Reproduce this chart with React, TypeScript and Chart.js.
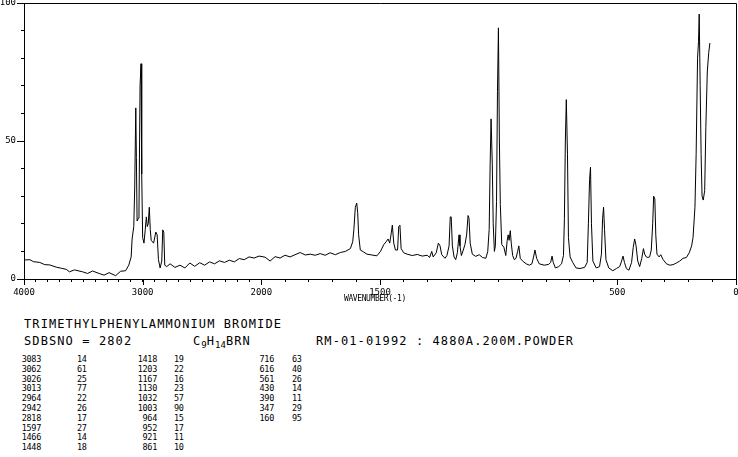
import React, { useEffect, useRef } from "react";
import { Chart, registerables } from "chart.js";

Chart.register(...registerables);

// Raman spectrum trace (wavenumber in cm-1, relative intensity)
const wavenumbers: number[] = [
  3992, 3950, 3922, 3867, 3825, 3783, 3728, 3686, 3644, 3617, 3575, 3506, 3464, 3422, 3367, 3325, 3283, 3228,
  3186, 3144, 3117, 3097, 3089, 3075, 3067, 3058, 3053, 3047, 3036, 3031, 3022, 3014, 3008, 3000, 2989, 2978,
  2969, 2961, 2953, 2944, 2936, 2928, 2908, 2889, 2878, 2867, 2853, 2839, 2831, 2822, 2814, 2797, 2769, 2728,
  2686, 2644, 2603, 2561, 2519, 2478, 2436, 2394, 2353, 2311, 2269, 2228, 2186, 2144, 2103, 2061, 2019, 1984,
  1963, 1942, 1921, 1900, 1879, 1858, 1836, 1815, 1794, 1773, 1752, 1731, 1710, 1688, 1667, 1646, 1625, 1615,
  1610, 1604, 1598, 1594, 1590, 1583, 1569, 1555, 1534, 1513, 1498, 1484, 1474, 1466, 1459, 1452, 1448, 1442,
  1435, 1426, 1421, 1416, 1411, 1400, 1386, 1364, 1343, 1322, 1301, 1291, 1282, 1276, 1263, 1254, 1247, 1240,
  1226, 1218, 1209, 1204, 1200, 1195, 1188, 1181, 1174, 1167, 1163, 1157, 1149, 1142, 1135, 1129, 1125, 1120,
  1111, 1097, 1082, 1068, 1054, 1046, 1040, 1036, 1032, 1027, 1023, 1018, 1014, 1009, 1005, 1001, 997, 993,
  987, 978, 970, 964, 960, 956, 951, 947, 941, 934, 927, 920, 915, 909, 899, 884, 871, 860, 853, 847, 840, 829,
  808, 789, 781, 775, 770, 761, 747, 735, 727, 723, 719, 715, 710, 706, 699, 688, 674, 657, 638, 627, 622, 617,
  613, 609, 603, 589, 575, 567, 562, 558, 554, 548, 536, 519, 504, 490, 482, 476, 470, 462, 451, 440, 433, 427,
  421, 414, 406, 397, 390, 385, 378, 371, 364, 357, 351, 347, 342, 338, 333, 324, 317, 307, 293, 279, 265, 251,
  237, 223, 209, 197, 187, 181, 173, 168, 162, 158, 155, 151, 147, 143, 138, 132, 127, 121, 115, 110,
];
const intensities: number[] = [
  6.9, 7.0, 6.3, 6.0, 5.2, 5.1, 4.3, 3.9, 3.5, 2.6, 3.3, 2.6, 2.0, 2.9, 2.0, 1.4, 2.3, 1.2,
  2.8, 3.0, 5.0, 8.0, 14.5, 19, 33, 62, 44, 21, 22, 25, 70, 78, 38, 15, 13, 18,
  22.5, 19, 20, 26, 18, 14, 13, 17, 16, 7, 4, 6.5, 17.8, 17, 5, 4.5, 5.5, 4.2,
  5.0, 4.0, 5.8, 4.6, 5.9, 5.0, 6.2, 5.5, 6.6, 6.0, 6.8, 6.2, 7.4, 7.0, 8.0, 7.6, 8.3, 7.9,
  6.5, 8.1, 7.6, 8.6, 8.0, 8.8, 9.6, 8.7, 9.0, 8.6, 9.2, 8.6, 9.5, 8.8, 9.6, 10.0, 11.0, 13.5,
  18, 26, 27.5, 24, 16, 10.5, 9.8, 9.0, 8.7, 8.4, 10.0, 12.5, 13.5, 14.5, 13, 17, 19.5, 13,
  10.5, 10.5, 19, 19.5, 11, 9.5, 9.0, 8.5, 8.9, 8.3, 8.6, 7.8, 10.0, 8.0, 9.5, 13.0, 12.0, 8.8,
  7.5, 8.5, 12, 22.5, 22.5, 12, 8.0, 7.0, 9.5, 16, 12, 8.5, 10.5, 12.5, 16, 23, 22, 13,
  9.0, 8.2, 8.8, 7.8, 7.5, 10, 18, 41, 58, 42, 20, 10, 12, 28, 68, 91, 50, 27,
  12.5, 11.5, 8.5, 14, 16, 14, 17.5, 13, 8.5, 7.0, 7.5, 10, 12, 7.5, 6.5, 5.5, 5.0, 5.5, 8.0, 10.5, 7.5, 5.5,
  5.0, 5.3, 6.0, 8.3, 6.0, 4.0, 4.5, 5.5, 8.5, 22, 50, 65, 45, 15, 8.0, 6.0, 4.0, 3.8, 4.2, 6.0, 20, 36,
  40.5, 20, 6.5, 4.0, 4.5, 9.0, 22, 26, 18, 7.0, 4.0, 3.0, 3.8, 4.5, 6.5, 8.3, 6.0, 3.8, 3.2, 6.0, 11.5, 14.5,
  12, 6.5, 4.5, 7.5, 11, 9.0, 8.0, 7.8, 8.0, 10.5, 20, 30, 29, 16, 9.0, 8.0, 8.8, 7.0, 5.5, 5.0, 5.2, 5.8,
  6.5, 7.5, 7.8, 9.5, 12, 15, 26, 45, 80, 86, 96, 70, 45, 30, 28.6, 32, 55, 75, 82, 85.5,
];

const xTickWavenumbers: number[] = [
  4000, 3900, 3800, 3700, 3600, 3500, 3400, 3300, 3200, 3100, 3000, 2900, 2800, 2700, 2600, 2500, 2400, 2300,
  2200, 2100, 2000, 1900, 1800, 1700, 1600, 1500, 1400, 1300, 1200, 1100, 1000, 900, 800, 700, 600, 500, 400,
  300, 200, 100, 0,
];
const xLabelWavenumbers: number[] = [4000, 3000, 2000, 1500, 500, 0];
const yTickValues: number[] = [0, 10, 20, 30, 40, 50, 60, 70, 80, 90, 100];
const yLabelValues: number[] = [0, 50, 100];

const peakWavenumbers: number[] = [
  3083, 3062, 3026, 3013, 2964, 2942, 2818, 1597, 1466, 1448,
  1418, 1203, 1167, 1130, 1032, 1003, 964, 952, 921, 861,
  716, 616, 561, 430, 390, 347, 160,
];
const peakIntensities: number[] = [
  14, 61, 25, 77, 22, 26, 17, 27, 14, 18,
  19, 22, 16, 23, 57, 90, 15, 17, 11, 10,
  63, 40, 26, 14, 11, 29, 95,
];

const compoundName = "TRIMETHYLPHENYLAMMONIUM BROMIDE";
const sdbsLine = "SDBSNO = 2802";
const measurement = "RM-01-01992 : 4880A.200M.POWDER";
const xAxisTitle = "WAVENUMBER(-1)";

// wavenumber axis is compressed by 2 above 2000 cm-1
const toAxis = (w: number) => (w <= 2000 ? w : 2000 + (w - 2000) / 2);
const fromAxis = (u: number) => (u <= 2000 ? u : 2000 + (u - 2000) * 2);

const MONO = '"DejaVu Sans Mono", monospace';

const framePlugin = {
  id: "frame",
  afterDraw(chart: any) {
    const { ctx, chartArea } = chart;
    const { left, right, top, bottom } = chartArea;
    const xs = chart.scales.x;
    const ys = chart.scales.y;
    ctx.save();
    ctx.strokeStyle = "#000";
    ctx.lineWidth = 1;
    ctx.beginPath();
    ctx.moveTo(left, Math.round(top) + 0.5);
    ctx.lineTo(Math.round(right) + 0.5, Math.round(top) + 0.5);
    ctx.lineTo(Math.round(right) + 0.5, bottom);
    xLabelWavenumbers.forEach((w) => {
      const px = Math.round(xs.getPixelForValue(toAxis(w))) + 0.5;
      ctx.moveTo(px, bottom);
      ctx.lineTo(px, bottom + 6);
    });
    yLabelValues.forEach((v) => {
      const py = Math.round(ys.getPixelForValue(v)) + 0.5;
      ctx.moveTo(left - 7, py);
      ctx.lineTo(left, py);
    });
    ctx.stroke();
    ctx.restore();
  },
};

export default function App() {
  const ref = useRef<HTMLCanvasElement | null>(null);

  useEffect(() => {
    if (!ref.current) return;
    const chart = new Chart(ref.current, {
      type: "line",
      data: {
        datasets: [
          {
            data: wavenumbers.map((w, i) => ({ x: toAxis(w), y: intensities[i] })),
            borderColor: "#000",
            borderWidth: 1,
            pointRadius: 0,
            tension: 0,
            fill: false,
          },
        ],
      },
      options: {
        animation: false,
        responsive: false,
        devicePixelRatio: 1,
        layout: { padding: { top: 3, right: 2, left: 0, bottom: 0 } },
        plugins: { legend: { display: false }, tooltip: { enabled: false } },
        scales: {
          x: {
            type: "linear",
            reverse: true,
            min: 0,
            max: 3000,
            afterBuildTicks: (s: any) => {
              s.ticks = xTickWavenumbers.map((w) => ({ value: toAxis(w) }));
            },
            afterFit: (s: any) => {
              s.height = 21;
              s.paddingLeft = 0;
              s.paddingRight = 0;
            },
            grid: { drawOnChartArea: false, tickLength: 3, color: "#000", tickColor: "#000" },
            border: { color: "#000", width: 1 },
            ticks: {
              autoSkip: false,
              maxRotation: 0,
              minRotation: 0,
              padding: 5,
              color: "#000",
              font: { family: MONO, size: 9 },
              callback: (v: any) => {
                const w = Math.round(fromAxis(Number(v)));
                return xLabelWavenumbers.includes(w) ? String(w) : "";
              },
            },
          },
          y: {
            type: "linear",
            min: 0,
            max: 100,
            afterBuildTicks: (s: any) => {
              s.ticks = yTickValues.map((v) => ({ value: v }));
            },
            afterFit: (s: any) => {
              s.width = 24;
              s.paddingTop = 0;
              s.paddingBottom = 0;
            },
            grid: { drawOnChartArea: false, tickLength: 3, color: "#000", tickColor: "#000" },
            border: { color: "#000", width: 1 },
            ticks: {
              autoSkip: false,
              padding: 5,
              color: "#000",
              font: { family: MONO, size: 9 },
              callback: (v: any) => (yLabelValues.includes(Number(v)) ? String(v) : ""),
            },
          },
        },
      },
      plugins: [framePlugin],
    } as any);
    return () => chart.destroy();
  }, []);

  const columns = [
    { wnRight: 41, valLeft: 77 },
    { wnRight: 157, valLeft: 174 },
    { wnRight: 274, valLeft: 292 },
  ];
  const rowTop = 355;
  const rowStep = 9.8;

  const bigText: React.CSSProperties = {
    position: "absolute",
    fontFamily: MONO,
    fontSize: 12,
    letterSpacing: 1.1,
    lineHeight: "14px",
    whiteSpace: "pre",
    color: "#000",
  };
  const smallText: React.CSSProperties = {
    position: "absolute",
    fontFamily: MONO,
    fontSize: 8.5,
    letterSpacing: -0.3,
    lineHeight: "9px",
    whiteSpace: "pre",
    color: "#000",
  };

  return (
    <div
      style={{
        position: "fixed",
        left: 0,
        top: 0,
        width: 738,
        height: 457,
        background: "#fff",
        overflow: "hidden",
      }}
    >
      <canvas ref={ref} width={738} height={300} style={{ position: "absolute", left: 0, top: 0 }} />
      <div style={{ ...smallText, left: 344, top: 294, fontSize: 8, letterSpacing: -0.4 }}>{xAxisTitle}</div>
      <div style={{ ...bigText, left: 24, top: 317 }}>{compoundName}</div>
      <div style={{ ...bigText, left: 24, top: 334 }}>{sdbsLine}</div>
      <div style={{ ...bigText, left: 193, top: 334 }}>
        C<span style={{ fontSize: 9, position: "relative", top: 3, letterSpacing: 0 }}>9</span>H
        <span style={{ fontSize: 9, position: "relative", top: 3, letterSpacing: 0 }}>14</span>BRN
      </div>
      <div style={{ ...bigText, left: 316, top: 334 }}>{measurement}</div>
      {peakWavenumbers.map((w, i) => {
        const col = columns[Math.floor(i / 10)];
        const row = i % 10;
        const top = rowTop + row * rowStep;
        return (
          <React.Fragment key={i}>
            <div style={{ ...smallText, top, right: 738 - col.wnRight, textAlign: "right" }}>{String(w)}</div>
            <div style={{ ...smallText, top, left: col.valLeft }}>{String(peakIntensities[i])}</div>
          </React.Fragment>
        );
      })}
    </div>
  );
}
